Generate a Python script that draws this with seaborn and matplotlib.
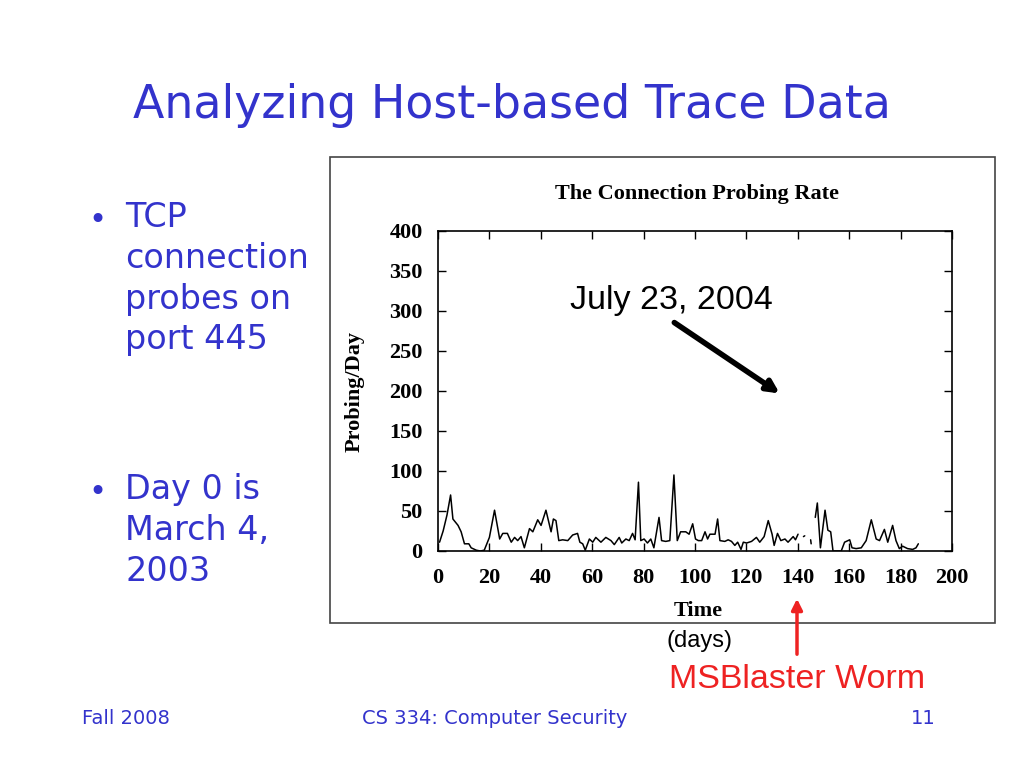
import numpy as np
import pandas as pd
import matplotlib
matplotlib.use("Agg")
import matplotlib.pyplot as plt
from matplotlib.patches import Rectangle, FancyArrowPatch
import seaborn as sns

# ---- data ----
days = [0.6, 2, 3.5, 4.9, 5.8, 7.8, 9, 10.3, 12, 12.9, 14.9, 16.5, 18, 20, 22, 24, 25.2, 27,
        28.5, 29.8, 31, 32.3, 33.6, 35.6, 36.9, 38.8, 40.1, 42, 44, 44.9, 45.9, 47, 48.5,
        50.5, 52.4, 54.3, 55.2, 56.3, 57.3, 58.9, 60.2, 61.4, 63.4, 65.3, 67.3, 68.6, 70.5,
        71.5, 73.1, 74.4, 75.7, 76.7, 78, 78.9, 80.2, 81.5, 82.8, 84, 86, 87, 88.6, 90.2,
        91.8, 93.1, 94.4, 96.4, 97.7, 99.1, 100.2, 101.3, 102.6, 103.9, 104.9, 105.8, 107.8,
        108.8, 109.7, 111.6, 112.9, 114.2, 115.5, 116.6, 117.9, 118.8, 120.1, 122, 123.9,
        125.2, 126.9, 128.5, 130, 130.8, 132.1, 133.4, 135, 136.2, 138.2, 139.1, 140.1,
        np.nan, 142.2, 142.7, np.nan, 145, 145.2, np.nan,
        146.8, 147.6, 148.8, 150.6, 151.7, 152.8, 153.7, 156.9, 158.2, 160.2, 161.1, 162.7,
        164.7, 166.6, 168.6, 170.5, 171.8, 173.7, 175, 176.9, 178.2, 179.5, 180.8, 182.7,
        184.7, 186, 186.9]
rate = [11, 25, 45, 70, 40, 32, 24, 9, 9, 4, 1, 0, 1, 17, 51, 15, 22, 22,
        11, 17, 13, 18, 4, 28, 24, 39, 32, 51, 24, 40, 38, 13, 14,
        13, 20, 22, 11, 9, 1, 15, 11, 17, 11, 17, 13, 8, 17,
        10, 15, 13, 22, 14, 86, 13, 15, 10, 15, 4, 42, 13, 12, 13,
        95, 13, 24, 24, 21, 34, 15, 13, 13, 24, 15, 21, 21,
        40, 13, 12, 14, 12, 7, 11, 2, 11, 10, 12, 17,
        11, 18, 38, 21, 7, 22, 13, 15, 11, 18, 14, 21,
        np.nan, 18, 19, np.nan, 14, 9, np.nan,
        42, 60, 4, 51, 26, 24, 0, 0, 11, 14, 4, 3,
        4, 13, 39, 15, 13, 27, 11, 32, 13, 3, 6, 3,
        2, 4, 9]
x_ticks = [0, 20, 40, 60, 80, 100, 120, 140, 160, 180, 200]
y_ticks = [0, 50, 100, 150, 200, 250, 300, 350, 400]

title = "Analyzing Host-based Trace Data"
bullet1 = "TCP\nconnection\nprobes on\nport 445"
bullet2 = "Day 0 is\nMarch 4,\n2003"

df = pd.DataFrame({"day": days, "rate": rate})
df["seg"] = df["day"].isna().cumsum()
df = df.dropna()

sns.set_style("ticks")
plt.rcParams["font.family"] = ["DejaVu Sans"]

fig = plt.figure(figsize=(10.24, 7.68), dpi=100)
fig.patch.set_facecolor("white")

blue = "#3333cc"
W, H = 1024, 768
def fx(px): return px / W
def fy(py): return 1 - py / H

# slide title and bullets
fig.text(fx(512), fy(106), title, color=blue, fontsize=33, ha="center", va="center")
fig.text(fx(88), fy(220), "\u2022", color=blue, fontsize=22, ha="left", va="center")
fig.text(fx(125), fy(201), bullet1, color=blue, fontsize=24, ha="left", va="top",
         linespacing=1.3)
fig.text(fx(88), fy(492), "\u2022", color=blue, fontsize=22, ha="left", va="center")
fig.text(fx(125), fy(473), bullet2, color=blue, fontsize=24, ha="left", va="top",
         linespacing=1.3)

# footer
fig.text(fx(82), fy(718), "Fall 2008", color=blue, fontsize=14, ha="left", va="center")
fig.text(fx(362), fy(718), "CS 334: Computer Security", color=blue, fontsize=14,
         ha="left", va="center")
fig.text(fx(936), fy(718), "11", color=blue, fontsize=14, ha="right", va="center")

# chart frame
fig.patches.append(Rectangle((fx(330), fy(623)), fx(995) - fx(330), fy(157) - fy(623),
                             transform=fig.transFigure, fill=False, edgecolor="#444444",
                             linewidth=1.2))

ax = fig.add_axes([fx(438), fy(551), fx(952) - fx(438), fy(231) - fy(551)])
for s, g in df.groupby("seg"):
    sns.lineplot(data=g, x="day", y="rate", ax=ax, color="black", linewidth=1.1,
                 estimator=None, sort=False)
ax.set_xlim(0, 200)
ax.set_ylim(0, 400)
ax.set_xticks(x_ticks)
ax.set_yticks(y_ticks)
ax.tick_params(direction="in", length=6, width=1, top=True, right=True, labelsize=16,
               colors="black", labelcolor="black")
ax.tick_params(axis="x", pad=12)
ax.tick_params(axis="y", pad=11)
for lab in ax.get_xticklabels() + ax.get_yticklabels():
    lab.set_family("Liberation Serif")
    lab.set_fontweight("bold")
for sp in ax.spines.values():
    sp.set_visible(True)
    sp.set_linewidth(1.2)
    sp.set_color("black")
ax.set_xlabel("")
ax.set_ylabel("")

serif = dict(family="Liberation Serif", fontweight="bold", color="black")
fig.text(fx(697), fy(194), "The Connection Probing Rate", fontsize=16, ha="center",
         va="center", **serif)
fig.text(fx(355), fy(392), "Probing/Day", fontsize=16, ha="center", va="center",
         rotation=90, **serif)
fig.text(fx(698), fy(611), "Time", fontsize=16, ha="center", va="center", **serif)

sans = "Liberation Sans"
fig.text(fx(671), fy(300), "July 23, 2004", fontsize=24.5, ha="center", va="center",
         family=sans, color="black")
fig.text(fx(700), fy(641), "(days)", fontsize=17, ha="center", va="center",
         family=sans, color="black")
fig.text(fx(797), fy(680), "MSBlaster Worm", fontsize=24.5, ha="center", va="center",
         family=sans, color="#ee2222")

fig.patches.append(FancyArrowPatch((fx(672), fy(321)), (fx(782), fy(395)),
                                   transform=fig.transFigure, arrowstyle="-|>",
                                   mutation_scale=18, linewidth=4, color="black"))
fig.patches.append(FancyArrowPatch((fx(797), fy(657)), (fx(797), fy(596)),
                                   transform=fig.transFigure, arrowstyle="-|>",
                                   mutation_scale=16, linewidth=2.5, color="#ee2222"))

fig.savefig("out.png", dpi=100, facecolor="white")
